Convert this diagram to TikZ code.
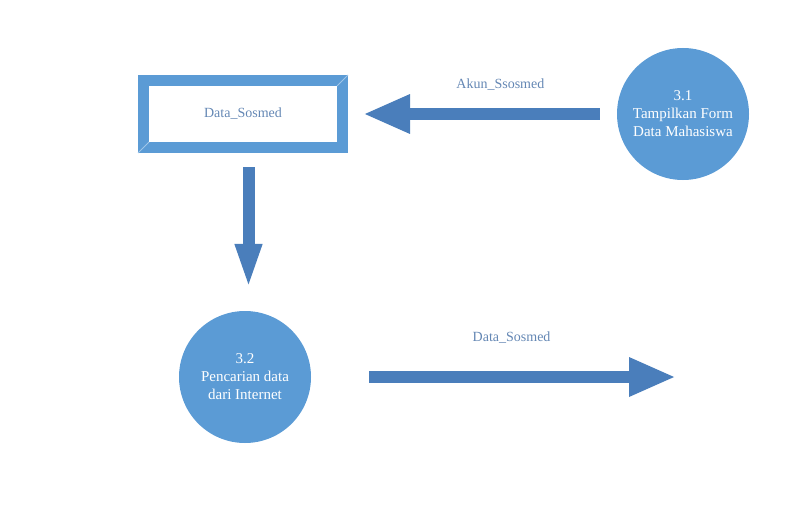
\documentclass[tikz,border=0pt]{standalone}
\usepackage{fontspec}
\setmainfont{Liberation Serif}
\usepackage{tikz}
\usetikzlibrary{arrows.meta}

\definecolor{procblue}{RGB}{91,155,213}
\definecolor{flowblue}{RGB}{74,126,187}
\definecolor{bevelblue}{RGB}{160,198,232}
\definecolor{labelblue}{RGB}{100,135,180}

\begin{document}
\begin{tikzpicture}[x=1pt,y=-1pt,
  font=\fontsize{14}{17.5}\selectfont,
  process/.style={circle,fill=procblue,text=white,minimum size=132pt,inner sep=0pt,align=center,
    font=\fontsize{15}{18}\selectfont},
  store/.style={rectangle,draw=procblue,line width=11pt,minimum width=199pt,minimum height=67pt,text=labelblue},
  flow/.style={flowblue,line width=12.5pt,-{Triangle[length=47pt,width=36pt]}},
  flowlabel/.style={text=labelblue}]
\useasboundingbox (0,0) rectangle (793,519);

\node[store] (sosmed) at (243,114) {Data\_Sosmed};
% bevel corners
\draw[bevelblue,line width=0.8pt] (sosmed.north east) -- ++(-11,11);
\draw[bevelblue,line width=0.8pt] (sosmed.south west) -- ++(11,-11);

\node[process] (p31) at (683,114) {3.1\\Tampilkan Form\\Data Mahasiswa};
\node[process] (p32) at (245,377) {3.2\\Pencarian data\\dari Internet};
\coordinate (keluar) at (676,377);

\draw[flow,shorten <=17pt,shorten >=15pt] (p31.west) -- node[flowlabel,above=14pt,xshift=18pt] {Akun\_Ssosmed} (sosmed.east);
\draw[flow,line width=12pt,-{Triangle[length=46pt,width=24pt]}] ([xshift=5.5pt,yshift=-14pt]sosmed.south) -- ([xshift=3.5pt,yshift=21pt]p32.north);
\draw[flow,shorten <=58pt] (p32.east) -- node[flowlabel,above=24pt,xshift=18pt] {Data\_Sosmed} (keluar);
\end{tikzpicture}
\end{document}
